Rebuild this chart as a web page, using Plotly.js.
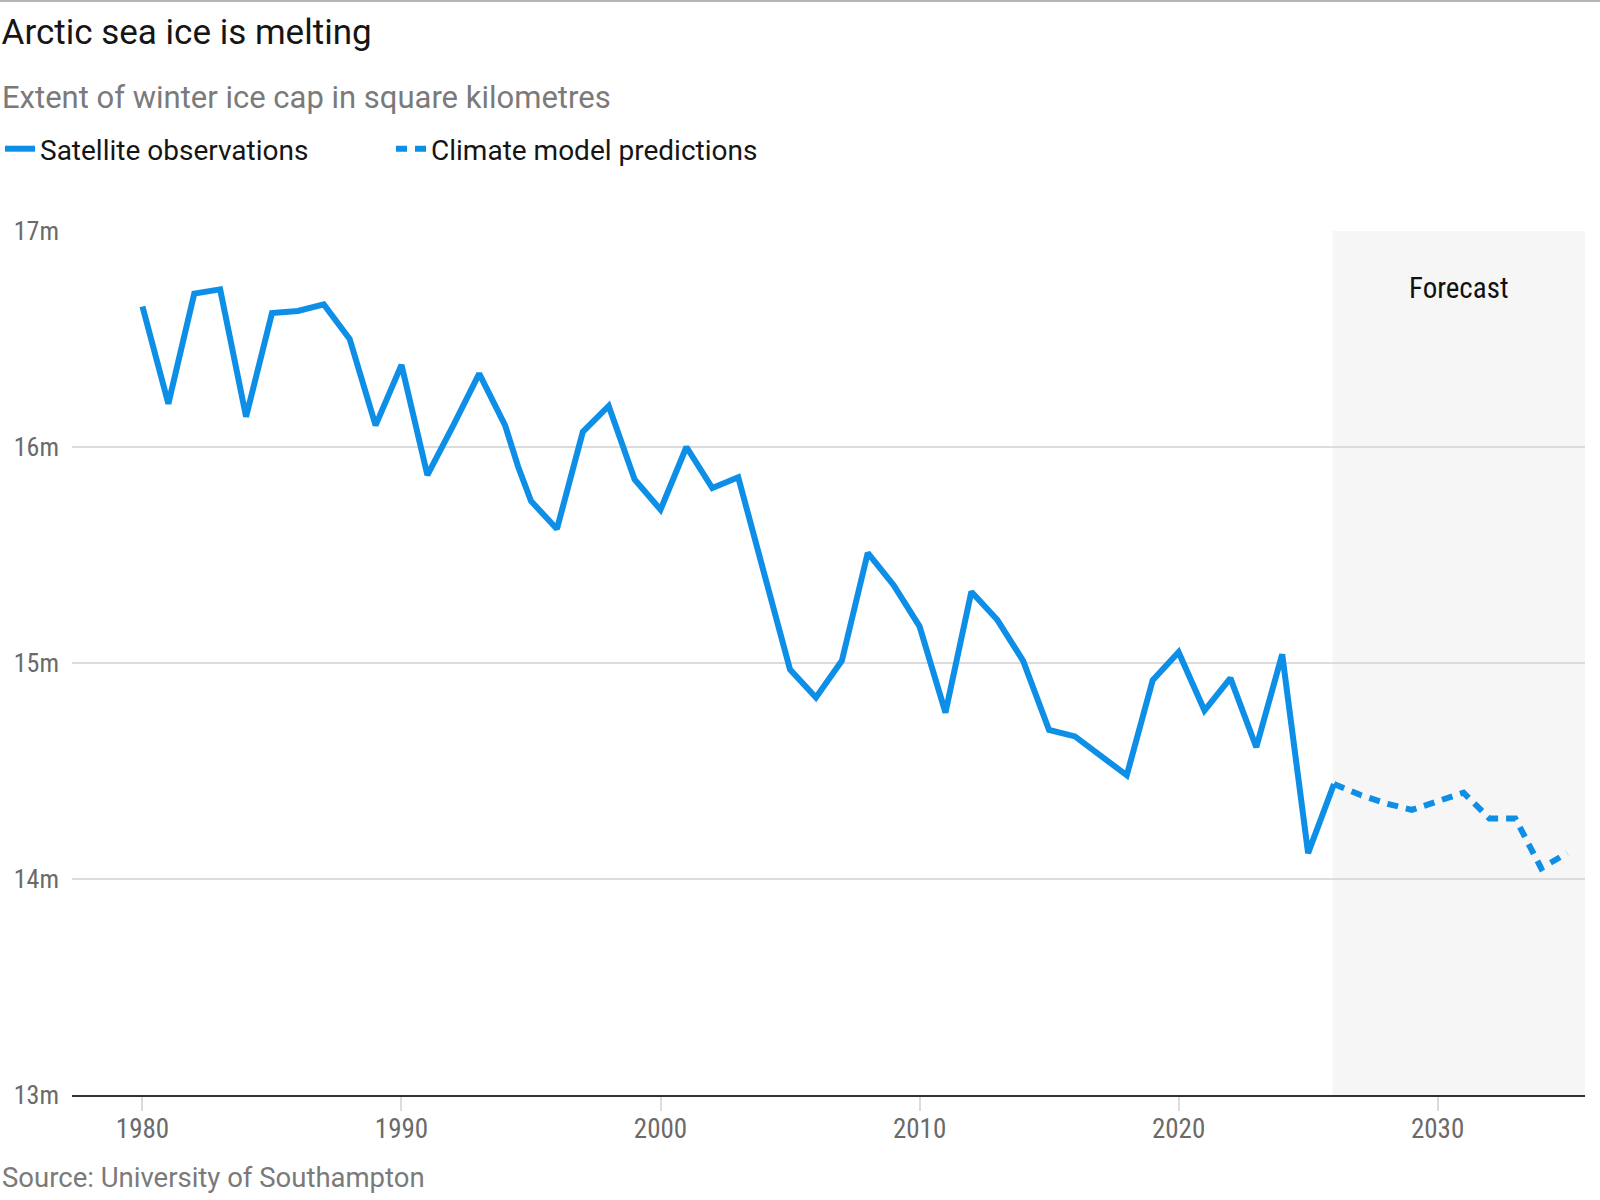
<!DOCTYPE html>
<html>
<head>
<meta charset="utf-8">
<script src="https://cdn.plot.ly/plotly-3.0.1.min.js"></script>
<style>
  html, body { margin: 0; padding: 0; background: #fff; }
  #chart { width: 1600px; height: 1200px; }
</style>
</head>
<body>
<div id="chart"></div>
<script>
// ---- Data ----
const obsYears = [1980, 1981, 1982, 1983, 1984, 1985, 1986, 1987, 1988, 1989,
  1990, 1991, 1992, 1993, 1994, 1994.5, 1995, 1996, 1997, 1998, 1999,
  2000, 2001, 2002, 2003, 2004, 2005, 2006, 2007, 2008, 2009,
  2010, 2011, 2012, 2013, 2014, 2015, 2016, 2017, 2018, 2019,
  2020, 2021, 2022, 2023, 2024, 2025, 2026];
const obsExtent = [16.65, 16.20, 16.71, 16.73, 16.14, 16.62, 16.63, 16.66, 16.50, 16.10,
  16.38, 15.87, 16.10, 16.34, 16.10, 15.91, 15.75, 15.62, 16.07, 16.19, 15.85,
  15.71, 16.00, 15.81, 15.86, 15.41, 14.97, 14.84, 15.01, 15.51, 15.36,
  15.17, 14.77, 15.33, 15.20, 15.01, 14.69, 14.66, 14.57, 14.48, 14.92,
  15.05, 14.78, 14.93, 14.61, 15.04, 14.12, 14.44];

const predYears = [2026, 2027, 2028, 2029, 2030, 2031, 2032, 2033, 2034, 2035];
const predExtent = [14.44, 14.39, 14.35, 14.32, 14.36, 14.40, 14.28, 14.28, 14.05, 14.12];

const xTickVals = [1980, 1990, 2000, 2010, 2020, 2030];
const xTickText = ['1980', '1990', '2000', '2010', '2020', '2030'];
const yTickVals = [13, 14, 15, 16, 17];
const yTickText = ['13m', '14m', '15m', '16m', '17m'];

const forecastStart = 2025.95;
const xRange = [1977.28, 2035.69];
const yRange = [13, 17];

const seriesNames = ['Satellite observations', 'Climate model predictions'];
const titleText = 'Arctic sea ice is melting';
const subtitleText = 'Extent of winter ice cap in square kilometres';
const sourceText = 'Source: University of Southampton';
const forecastLabel = 'Forecast';

// ---- Layout ----
const W = 1600, H = 1200;
const M = { l: 72, r: 15, t: 231, b: 105 };
const pw = W - M.l - M.r, ph = H - M.t - M.b;
const px2x = p => (p - M.l) / pw;          // container px -> paper x
const py2y = p => (H - M.b - p) / ph;      // container px -> paper y

const BLUE = '#0e8fe7';
const SANS = 'Roboto, "Noto Sans", "Liberation Sans", sans-serif';
const COND = '"Roboto Condensed", "Liberation Sans Narrow", "DejaVu Sans Condensed", sans-serif';

const traces = [
  {
    x: obsYears, y: obsExtent, name: seriesNames[0],
    type: 'scatter', mode: 'lines',
    line: { color: BLUE, width: 6, dash: 'solid' },
    hoverinfo: 'skip'
  },
  {
    x: predYears, y: predExtent, name: seriesNames[1],
    type: 'scatter', mode: 'lines',
    line: { color: BLUE, width: 6, dash: '11px,8px' },
    hoverinfo: 'skip'
  }
];

const layout = {
  width: W, height: H,
  margin: M,
  paper_bgcolor: '#fff', plot_bgcolor: 'rgba(0,0,0,0)',
  showlegend: true,
  hovermode: false,
  title: {
    text: titleText,
    xref: 'container', yref: 'container',
    x: 0.001, xanchor: 'left',
    y: 1 - 32 / H, yanchor: 'middle',
    font: { family: SANS, size: 35, color: '#151515' }
  },
  legend: {
    orientation: 'h',
    xref: 'container', yref: 'container',
    x: 0, xanchor: 'left',
    y: 1 - 149 / H, yanchor: 'middle',
    font: { family: SANS, size: 28, color: '#151515' },
    entrywidth: 346, entrywidthmode: 'pixels',
    bgcolor: 'rgba(0,0,0,0)', borderwidth: 0
  },
  xaxis: {
    range: xRange, type: 'linear', fixedrange: true,
    tickmode: 'array', tickvals: xTickVals, ticktext: xTickText,
    showgrid: false, zeroline: false,
    showline: true, linecolor: '#333', linewidth: 2,
    ticks: 'outside', ticklen: 14, tickwidth: 2, tickcolor: '#dcdcdc',
    ticklabelstandoff: -5,
    tickfont: { family: COND, size: 27, color: '#6a6a6a' }
  },
  yaxis: {
    range: yRange, type: 'linear', fixedrange: true,
    tickmode: 'array', tickvals: yTickVals, ticktext: yTickText,
    showgrid: true, gridcolor: '#dcdcdc', gridwidth: 2,
    zeroline: false, showline: false, ticks: '',
    ticklabelstandoff: 12,
    tickfont: { family: COND, size: 26, color: '#6a6a6a' }
  },
  shapes: [
    { type: 'rect', layer: 'below', xref: 'x', yref: 'y',
      x0: forecastStart, x1: xRange[1], y0: yRange[0], y1: yRange[1],
      fillcolor: '#f6f6f6', line: { width: 0 } },
    { type: 'line', xref: 'paper', yref: 'paper',
      x0: px2x(0), x1: px2x(W), y0: py2y(1), y1: py2y(1),
      line: { color: '#b5b5b5', width: 2 } }
  ],
  annotations: [
    { text: subtitleText, xref: 'paper', yref: 'paper',
      x: px2x(0), xanchor: 'left', y: py2y(97), yanchor: 'middle',
      showarrow: false, font: { family: SANS, size: 31, color: '#7a7a7a' } },
    { text: sourceText, xref: 'paper', yref: 'paper',
      x: px2x(0), xanchor: 'left', y: py2y(1177), yanchor: 'middle',
      showarrow: false, font: { family: SANS, size: 27.5, color: '#7a7a7a' } },
    { text: forecastLabel, xref: 'x', yref: 'paper',
      x: (forecastStart + xRange[1]) / 2, xanchor: 'center',
      y: py2y(288), yanchor: 'middle',
      showarrow: false, font: { family: COND, size: 29, color: '#111' } }
  ]
};

Plotly.newPlot('chart', traces, layout, { displayModeBar: false, staticPlot: true });
</script>
</body>
</html>
